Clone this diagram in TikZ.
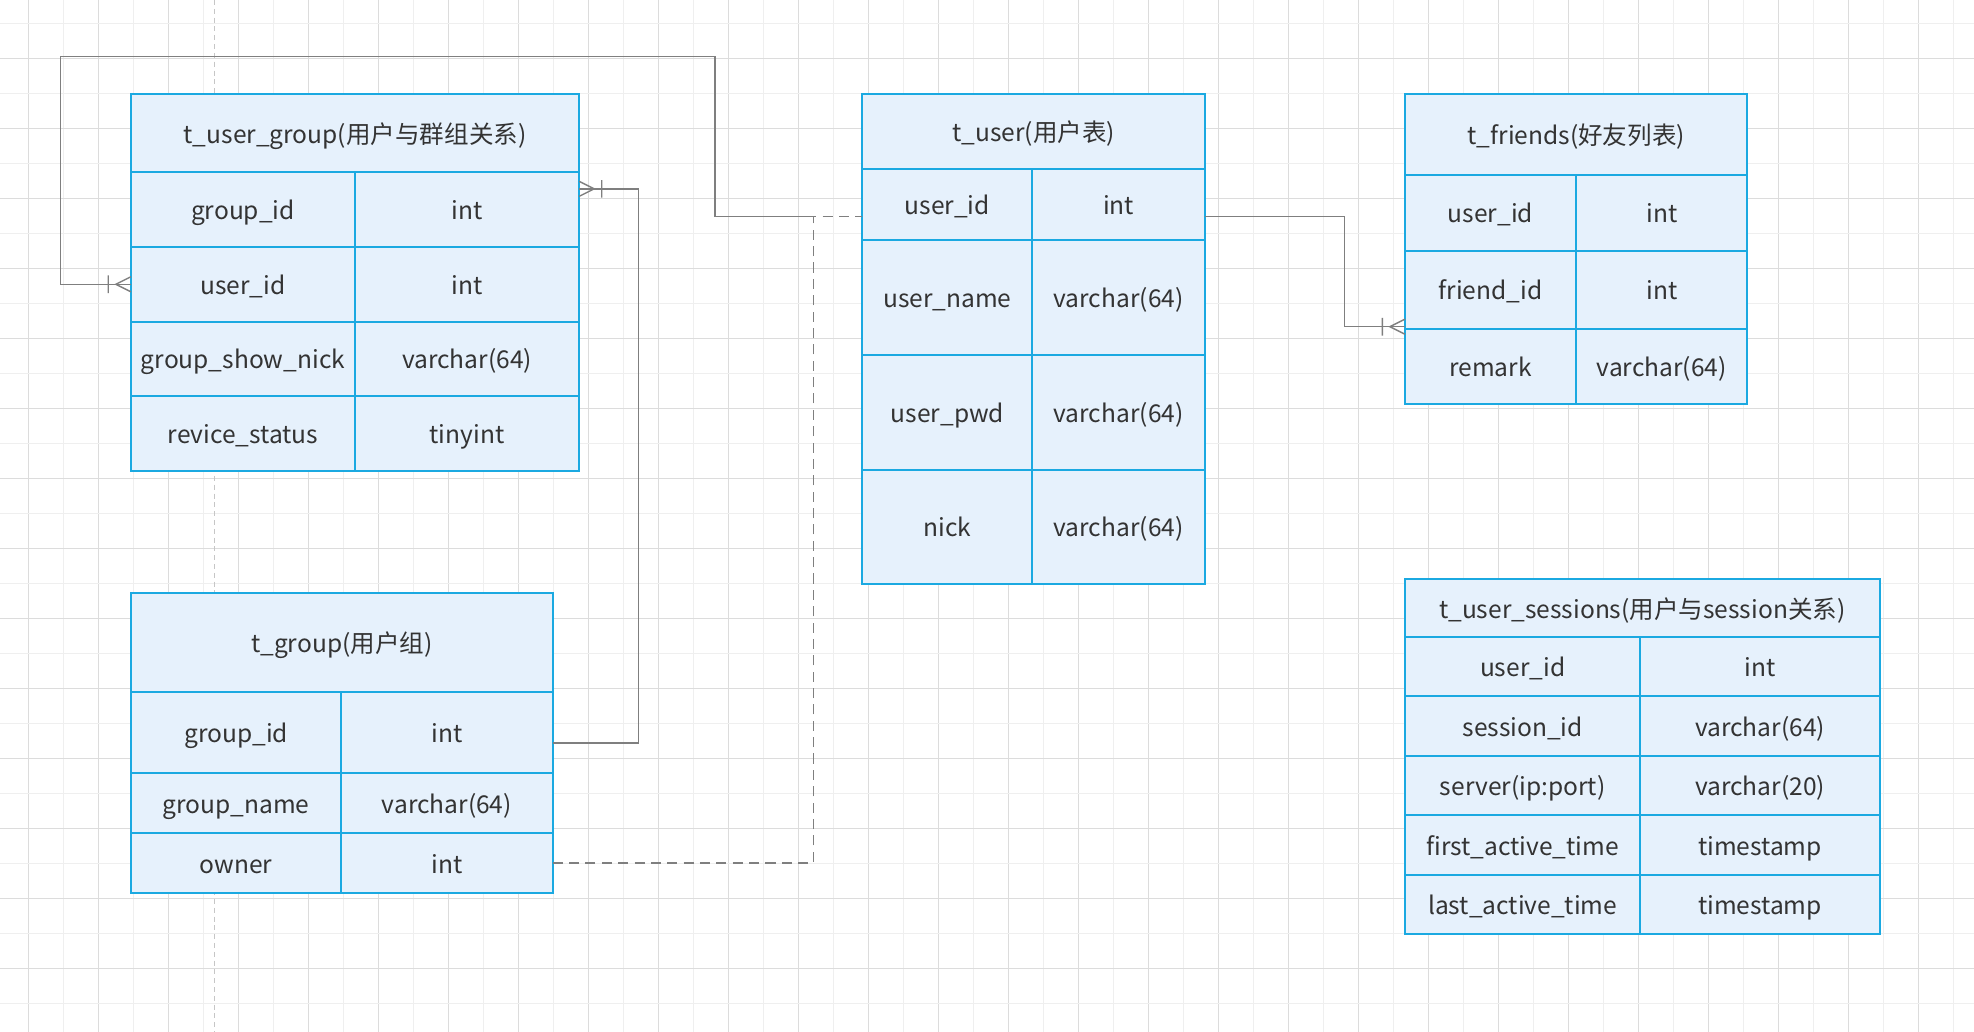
\documentclass[tikz,border=0pt]{standalone}
\usepackage{fontspec}
\setmainfont{Noto Sans CJK SC}
\usetikzlibrary{positioning}
\definecolor{tblue}{HTML}{1BA9E1}
\definecolor{tfill}{HTML}{E6F1FC}
\definecolor{tink}{HTML}{333333}
\definecolor{lnk}{HTML}{7F7F7F}
\definecolor{gmin}{HTML}{EFEFEF}
\definecolor{gmaj}{HTML}{DCDCDC}
\tikzset{
  crowbar/.pic={\draw[lnk, line width=1.1pt] (0,-6) -- (-12,0) -- (0,6) (-18,-7) -- (-18,7);}
}

\begin{document}
\begin{tikzpicture}[x=1pt, y=-1pt,
    cl/.style={draw=tblue, fill=tfill, line width=1.6pt, text=tink, inner sep=0pt, outer sep=0pt,
      text height=18pt, text depth=2pt, font=\fontsize{19.5pt}{23pt}\selectfont},
    hd/.style={cl, anchor=north west},
    link/.style={draw=lnk, line width=1.2pt},
    ug/.style={cl, minimum width=178pt, minimum height=59.2pt},
    gr/.style={cl, minimum height=#1},
    us/.style={cl, minimum height=#1},
    fr/.style={cl, minimum width=136pt, minimum height=#1},
    se/.style={cl, minimum height=47.2pt}]
  \useasboundingbox (0,0) rectangle (1568,819.7);
  \fill[white] (0,0) rectangle (1568,819.7);
  % background grid
  \foreach \i in {0,...,28} {
    \draw[gmin, line width=0.8pt] (50.3+55.6*\i,0) -- ++(0,819.7);
    \draw[gmaj, line width=0.8pt] (22.5+55.6*\i,0) -- ++(0,819.7);
  }
  \foreach \i in {0,...,15} {
    \draw[gmin, line width=0.8pt] (0,18.5+55.6*\i) -- ++(1568,0);
    \draw[gmaj, line width=0.8pt] (0,46.3+55.6*\i) -- ++(1568,0);
  }
  \draw[gray!45, line width=0.8pt, dash pattern=on 4pt off 3pt] (170,0) -- (170,819.7);

  % t_user_group
  \node[hd, minimum width=356pt, minimum height=62pt] (ug) at (104,75) {t\_user\_group(用户与群组关系)};
  \node[ug, below right=0pt and 0pt of ug.south west] (ug_gid) {group\_id};
  \node[ug, right=0pt of ug_gid] (ug_gid_t) {int};
  \node[ug, below right=0pt and 0pt of ug_gid.south west] (ug_uid) {user\_id};
  \node[ug, right=0pt of ug_uid] (ug_uid_t) {int};
  \node[ug, below right=0pt and 0pt of ug_uid.south west] (ug_nick) {group\_show\_nick};
  \node[ug, right=0pt of ug_nick] (ug_nick_t) {varchar(64)};
  \node[ug, below right=0pt and 0pt of ug_nick.south west] (ug_st) {revice\_status};
  \node[ug, right=0pt of ug_st] (ug_st_t) {tinyint};

  % t_group
  \node[hd, minimum width=335pt, minimum height=79pt] (g) at (104,471) {t\_group(用户组)};
  \node[gr=64pt, minimum width=167pt, below right=0pt and 0pt of g.south west] (g_gid) {group\_id};
  \node[gr=64pt, minimum width=168pt, right=0pt of g_gid] (g_gid_t) {int};
  \node[gr=48pt, minimum width=167pt, below right=0pt and 0pt of g_gid.south west] (g_name) {group\_name};
  \node[gr=48pt, minimum width=168pt, right=0pt of g_name] (g_name_t) {varchar(64)};
  \node[gr=47pt, minimum width=167pt, below right=0pt and 0pt of g_name.south west] (g_own) {owner};
  \node[gr=47pt, minimum width=168pt, right=0pt of g_own] (g_own_t) {int};

  % t_user
  \node[hd, minimum width=272pt, minimum height=59pt] (u) at (685,75) {t\_user(用户表)};
  \node[us=57pt, minimum width=135pt, below right=0pt and 0pt of u.south west] (u_uid) {user\_id};
  \node[us=57pt, minimum width=137pt, right=0pt of u_uid] (u_uid_t) {int};
  \node[us=91pt, minimum width=135pt, below right=0pt and 0pt of u_uid.south west] (u_name) {user\_name};
  \node[us=91pt, minimum width=137pt, right=0pt of u_name] (u_name_t) {varchar(64)};
  \node[us=91pt, minimum width=135pt, below right=0pt and 0pt of u_name.south west] (u_pwd) {user\_pwd};
  \node[us=91pt, minimum width=137pt, right=0pt of u_pwd] (u_pwd_t) {varchar(64)};
  \node[us=91pt, minimum width=135pt, below right=0pt and 0pt of u_pwd.south west] (u_nick) {nick};
  \node[us=91pt, minimum width=137pt, right=0pt of u_nick] (u_nick_t) {varchar(64)};

  % t_friends
  \node[hd, minimum width=272pt, minimum height=64pt] (f) at (1116,75) {t\_friends(好友列表)};
  \node[fr=60pt, below right=0pt and 0pt of f.south west] (f_uid) {user\_id};
  \node[fr=60pt, right=0pt of f_uid] (f_uid_t) {int};
  \node[fr=62pt, below right=0pt and 0pt of f_uid.south west] (f_fid) {friend\_id};
  \node[fr=62pt, right=0pt of f_fid] (f_fid_t) {int};
  \node[fr=60pt, below right=0pt and 0pt of f_fid.south west] (f_rm) {remark};
  \node[fr=60pt, right=0pt of f_rm] (f_rm_t) {varchar(64)};

  % t_user_sessions
  \node[hd, minimum width=377pt, minimum height=46pt] (s) at (1116,460) {t\_user\_sessions(用户与session关系)};
  \node[se, minimum width=187pt, below right=0pt and 0pt of s.south west] (s_uid) {user\_id};
  \node[se, minimum width=190pt, right=0pt of s_uid] (s_uid_t) {int};
  \node[se, minimum width=187pt, below right=0pt and 0pt of s_uid.south west] (s_sid) {session\_id};
  \node[se, minimum width=190pt, right=0pt of s_sid] (s_sid_t) {varchar(64)};
  \node[se, minimum width=187pt, below right=0pt and 0pt of s_sid.south west] (s_srv) {server(ip:port)};
  \node[se, minimum width=190pt, right=0pt of s_srv] (s_srv_t) {varchar(20)};
  \node[se, minimum width=187pt, below right=0pt and 0pt of s_srv.south west] (s_first) {first\_active\_time};
  \node[se, minimum width=190pt, right=0pt of s_first] (s_first_t) {timestamp};
  \node[se, minimum width=187pt, below right=0pt and 0pt of s_first.south west] (s_last) {last\_active\_time};
  \node[se, minimum width=190pt, right=0pt of s_last] (s_last_t) {timestamp};

  % relations
  \coordinate (jn) at (646,172);
  \draw[link] (jn) -- (568,172) |- (48,45) |- (ug_uid.west) pic {crowbar};
  \draw[link] ([yshift=-8pt]g_gid_t.east) -- (507,590) |- ([yshift=-13pt]ug_gid_t.north east) pic[rotate=180] {crowbar};
  \draw[link] ([yshift=-9.5pt]u_uid_t.east) -| (1068,259.5) -- ([yshift=1.5pt]f_fid.south west) pic {crowbar};
  \draw[link, dash pattern=on 8pt off 5pt] (g_own_t.east) -| (jn) -- ([yshift=-9.5pt]u_uid.west);
\end{tikzpicture}
\end{document}
